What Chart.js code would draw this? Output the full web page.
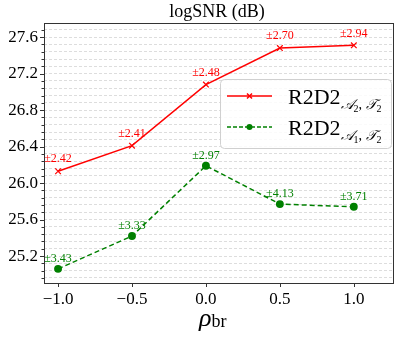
<!DOCTYPE html>
<html>
<head>
<meta charset="utf-8">
<script src="https://cdn.jsdelivr.net/npm/chart.js@4"></script>
<style>
  html, body { margin: 0; padding: 0; background: #fff; }
  #wrap { width: 399px; height: 342px; position: relative; }
</style>
</head>
<body>
<div id="wrap"><canvas id="chart"></canvas></div>
<script>
// data
const rho = [-1.0, -0.5, 0.0, 0.5, 1.0];
const snrA2 = [26.13, 26.41, 27.08, 27.48, 27.51];
const snrA1 = [25.06, 25.42, 26.19, 25.77, 25.74];
const stdA2 = ["±2.42", "±2.41", "±2.48", "±2.70", "±2.94"];
const stdA1 = ["±3.43", "±3.33", "±2.97", "±4.13", "±3.71"];
const yMajor = [25.2, 25.6, 26.0, 26.4, 26.8, 27.2, 27.6];
const xMajor = [-1.0, -0.5, 0.0, 0.5, 1.0];
const yMinorStep = 0.08;

const SERIF = "'Liberation Serif', 'DejaVu Serif', serif";
const RED = "#ff0000";
const GREEN = "#008000";

Chart.defaults.font.family = SERIF;

const isMajor = (v) => yMajor.some((m) => Math.abs(m - v) < 1e-6);
const fmt = (v) => (v < 0 ? "\u2212" : "") + Math.abs(v).toFixed(1);

// labels, frame, ticks, title, legend
const decoPlugin = {
    id: "deco",
    afterDatasetsDraw(chart) {
        const ctx = chart.ctx;
        const xs = chart.scales.x;
        const ys = chart.scales.y;

        // value labels
        ctx.save();
        ctx.font = "12px " + SERIF;
        ctx.textAlign = "center";
        ctx.textBaseline = "middle";
        [[snrA2, stdA2, RED, 12], [snrA1, stdA1, GREEN, 10]].forEach(([vals, txt, col, off]) => {
            ctx.fillStyle = col;
            vals.forEach((v, i) => {
                ctx.fillText(txt[i], xs.getPixelForValue(rho[i]), ys.getPixelForValue(v) - off);
            });
        });
        ctx.restore();
    },
    afterDraw(chart) {
        const ctx = chart.ctx;
        const area = chart.chartArea;
        const xs = chart.scales.x;
        const ys = chart.scales.y;
        ctx.save();

        // frame
        ctx.strokeStyle = "#333";
        ctx.lineWidth = 1;
        ctx.strokeRect(Math.round(area.left) + 0.5, Math.round(area.top) + 0.5,
            Math.round(area.right - area.left), Math.round(area.bottom - area.top));

        // y ticks (major + minor)
        ys.ticks.forEach((t) => {
            const y = Math.round(ys.getPixelForValue(t.value)) + 0.5;
            const len = isMajor(t.value) ? 4 : 2.5;
            ctx.beginPath();
            ctx.moveTo(area.left, y);
            ctx.lineTo(area.left - len, y);
            ctx.stroke();
        });
        // x ticks
        xMajor.forEach((v) => {
            const x = Math.round(xs.getPixelForValue(v)) + 0.5;
            ctx.beginPath();
            ctx.moveTo(x, area.bottom);
            ctx.lineTo(x, area.bottom + 4);
            ctx.stroke();
        });

        // title
        ctx.fillStyle = "#000";
        ctx.font = "18px " + SERIF;
        ctx.textAlign = "center";
        ctx.textBaseline = "middle";
        ctx.fillText("logSNR (dB)", 217, 12);

        // x axis title: rho_br
        ctx.textAlign = "left";
        ctx.textBaseline = "alphabetic";
        ctx.font = "italic 26px " + SERIF;
        const cx = 199;
        const rw = ctx.measureText("\u03C1").width;
        ctx.fillText("\u03C1", cx, 326);
        ctx.font = "18px " + SERIF;
        ctx.fillText("br", cx + rw, 327);

        // legend box
        const lx = 220, ly = 79, lw = 171, lh = 69;
        ctx.fillStyle = "rgba(255,255,255,0.85)";
        ctx.strokeStyle = "#d0d0d0";
        ctx.beginPath();
        ctx.roundRect(lx + 0.5, ly + 0.5, lw, lh, 4);
        ctx.fill();
        ctx.stroke();

        const entries = [
            { col: RED, dash: [], marker: "x", y: 96, sub: ["\uD835\uDC9C", "2", "\uD835\uDCAF", "2"] },
            { col: GREEN, dash: [4, 2], marker: "o", y: 127, sub: ["\uD835\uDC9C", "1", "\uD835\uDCAF", "2"] },
        ];
        entries.forEach((e) => {
            ctx.strokeStyle = e.col;
            ctx.fillStyle = e.col;
            ctx.lineWidth = 1.5;
            ctx.setLineDash(e.dash);
            ctx.beginPath();
            ctx.moveTo(227, e.y);
            ctx.lineTo(272, e.y);
            ctx.stroke();
            ctx.setLineDash([]);
            if (e.marker === "x") {
                ctx.beginPath();
                ctx.moveTo(247, e.y - 2.5); ctx.lineTo(252, e.y + 2.5);
                ctx.moveTo(247, e.y + 2.5); ctx.lineTo(252, e.y - 2.5);
                ctx.stroke();
            } else {
                ctx.beginPath();
                ctx.arc(249.5, e.y, 3, 0, Math.PI * 2);
                ctx.fill();
            }
            ctx.fillStyle = "#000";
            ctx.font = "22px " + SERIF;
            let x = 288;
            ctx.fillText("R2D2", x, e.y + 8);
            x += ctx.measureText("R2D2").width;
            const subY = e.y + 13;
            ctx.font = "italic 14px " + SERIF;
            ctx.fillText(e.sub[0], x, subY);
            x += ctx.measureText(e.sub[0]).width;
            ctx.font = "10px " + SERIF;
            ctx.fillText(e.sub[1], x, subY + 3);
            x += ctx.measureText(e.sub[1]).width;
            ctx.font = "14px " + SERIF;
            ctx.fillText(", ", x, subY);
            x += ctx.measureText(", ").width;
            ctx.font = "italic 14px " + SERIF;
            ctx.fillText(e.sub[2], x, subY);
            x += ctx.measureText(e.sub[2]).width;
            ctx.font = "10px " + SERIF;
            ctx.fillText(e.sub[3], x, subY + 3);
        });

        ctx.restore();
    },
};

new Chart(document.getElementById("chart").getContext("2d"), {
    type: "line",
    data: {
        datasets: [
            {
                label: "R2D2 A2,T2",
                data: rho.map((x, i) => ({ x, y: snrA2[i] })),
                borderColor: RED,
                backgroundColor: RED,
                borderWidth: 1.5,
                pointStyle: "cross",
                rotation: 45,
                pointRadius: 4,
                pointBorderWidth: 1.2,
                tension: 0,
            },
            {
                label: "R2D2 A1,T2",
                data: rho.map((x, i) => ({ x, y: snrA1[i] })),
                borderColor: GREEN,
                backgroundColor: GREEN,
                borderWidth: 1.5,
                borderDash: [5, 3],
                pointStyle: "circle",
                pointRadius: 3.2,
                tension: 0,
            },
        ],
    },
    options: {
        responsive: true,
        maintainAspectRatio: false,
        animation: false,
        layout: { padding: { left: 0, right: 6, top: 23, bottom: 0 } },
        plugins: {
            legend: { display: false },
            tooltip: { enabled: false },
        },
        scales: {
            x: {
                type: "linear",
                min: -1.095,
                max: 1.265,
                afterBuildTicks: (s) => { s.ticks = xMajor.map((v) => ({ value: v })); },
                afterFit: (s) => { s.height = 59; },
                grid: { display: false, drawTicks: false },
                border: { display: false },
                ticks: {
                    padding: 6,
                    maxRotation: 0,
                    color: "#000",
                    font: { family: SERIF, size: 17 },
                    callback: (v) => fmt(v),
                },
            },
            y: {
                type: "linear",
                min: 24.905,
                max: 27.755,
                afterBuildTicks: (s) => {
                    const t = [];
                    for (let k = Math.ceil(s.min / yMinorStep); k * yMinorStep <= s.max; k++) {
                        t.push({ value: Math.round(k * yMinorStep * 100) / 100 });
                    }
                    s.ticks = t;
                },
                afterFit: (s) => { s.width = 44; },
                grid: {
                    color: "#d4d4d4",
                    lineWidth: 0.8,
                    drawTicks: false,
                },
                border: { display: false, dash: [3, 2] },
                ticks: {
                    padding: 6,
                    autoSkip: false,
                    color: "#000",
                    font: { family: SERIF, size: 17 },
                    callback: (v) => (isMajor(v) ? v.toFixed(1) : ""),
                },
            },
        },
    },
    plugins: [decoPlugin],
});
</script>
</body>
</html>
